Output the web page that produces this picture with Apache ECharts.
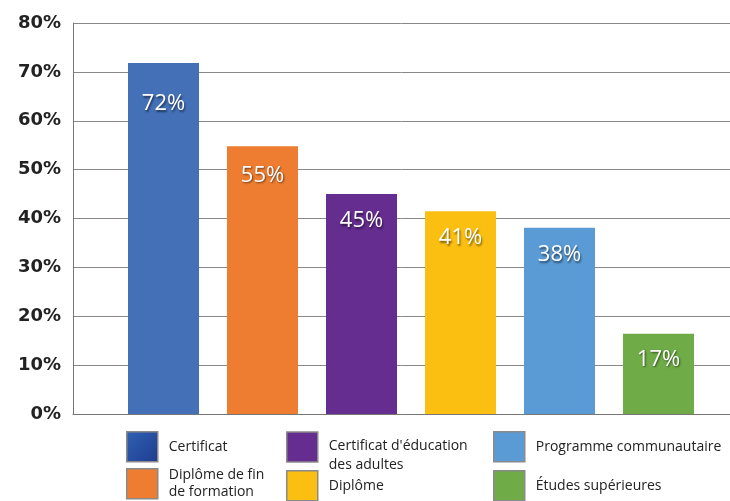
<!DOCTYPE html>
<html><head><meta charset="utf-8">
<script src="https://cdn.jsdelivr.net/npm/echarts@6/dist/echarts.min.js"></script>
<style>html,body{margin:0;padding:0;background:#fff}#c{width:730px;height:501px}</style>
</head><body><div id="c"></div>
<script>
// bar order (left to right)
const barNames = ['Certificat', 'Diplôme de fin de formation', "Certificat d'éducation des adultes", 'Diplôme', 'Programme communautaire', 'Études supérieures'];
const values = [71.8, 54.8, 45.0, 41.5, 38.1, 16.4];
const labelValues = [72, 55, 45, 41, 38, 17];
const yTicks = [0, 10, 20, 30, 40, 50, 60, 70, 80];
const colors = ['#4470b8', '#ee7d31', '#662d91', '#fbbf12', '#5b9bd5', '#6fab46'];
const labelDist = [30, 18.5, 16, 16, 16, 14.5];

const legendText = {
  'Certificat': '{a|Certificat}',
  'Diplôme de fin de formation': '{a|Diplôme de fin}\n{a|de formation}',
  "Certificat d'éducation des adultes": "{s| }\n{b|Certificat d'éducation}\n{b|des adultes}",
  'Diplôme': '{a|Diplôme}',
  'Programme communautaire': '{a|Programme communautaire}',
  'Études supérieures': '{a|Études supérieures}'
};
const legendPos = [
  {name: 'Certificat', left: 126, top: 431},
  {name: 'Diplôme de fin de formation', left: 126, top: 468},
  {name: "Certificat d'éducation des adultes", left: 286, top: 426},
  {name: 'Diplôme', left: 286, top: 470},
  {name: 'Programme communautaire', left: 493, top: 431},
  {name: 'Études supérieures', left: 493, top: 470}
];

const chart = echarts.init(document.getElementById('c'), null, {renderer: 'canvas'});
const series = barNames.map((n, i) => ({
  name: n,
  type: 'bar',
  xAxisIndex: 1, yAxisIndex: 1,
  barWidth: 71,
  barGap: '-100%',
  itemStyle: {color: colors[i]},
  data: barNames.map((_, j) => j === i ? values[i] : '-'),
  label: {
    show: true, position: 'insideTop', distance: labelDist[i],
    formatter: () => labelValues[i] + '%',
    color: '#fff', fontSize: 22, fontFamily: 'Open Sans',
    textShadowColor: 'rgba(0,0,0,0.55)', textShadowBlur: 2, textShadowOffsetX: 1, textShadowOffsetY: 1.5
  }
}));

const txt = {fontSize: 14, color: '#222', fontFamily: 'Open Sans'};
const legends = legendPos.map(p => {
  const ci = barNames.indexOf(p.name);
  return {
    left: p.left, top: p.top, orient: 'vertical', padding: 0,
    itemWidth: 31, itemHeight: 30,
    selectedMode: false,
    icon: 'rect',
    data: [{name: p.name, itemStyle: {color: ci === 0 ? new echarts.graphic.LinearGradient(0,0,1,1,[{offset:0,color:'#2f62b3'},{offset:1,color:'#1f3c8f'}]) : colors[ci], borderColor: '#8a8a8a', borderWidth: 1.5}}],
    formatter: n => legendText[n],
    itemGap: 0,
    textStyle: Object.assign({}, txt, {padding: [0, 0, 0, 6],
      rich: {
        a: Object.assign({}, txt, {lineHeight: 17}),
        b: Object.assign({}, txt, {lineHeight: 19}),
        s: {fontSize: 4, lineHeight: 18}
      }})
  };
});

chart.setOption({
  animation: false,
  legend: legends,
  grid: [
    {left: 73, right: 0, top: 23, bottom: 87},
    {left: 114, right: 22, top: 23, bottom: 87}
  ],
  xAxis: [
    {gridIndex: 0, type: 'category', data: ['a'], axisLine: {show: true, lineStyle: {color: '#777', width: 1}}, axisTick: {show: false}, axisLabel: {show: false}},
    {gridIndex: 1, type: 'category', data: barNames, axisLine: {show: false}, axisTick: {show: false}, axisLabel: {show: false}}
  ],
  yAxis: [
    {gridIndex: 0, type: 'value', min: yTicks[0], max: yTicks[yTicks.length - 1], interval: 10,
      axisLine: {show: true, lineStyle: {color: '#777', width: 1}},
      axisTick: {show: false},
      splitLine: {show: true, lineStyle: {color: '#888', width: 1}},
      axisLabel: {formatter: v => v + '%', color: '#222', fontSize: 18, fontWeight: 'bold', fontFamily: 'DejaVu Sans', margin: 12}
    },
    {gridIndex: 1, type: 'value', min: yTicks[0], max: yTicks[yTicks.length - 1], interval: 10, show: false, splitLine: {show: false}}
  ],
  series: series
});
</script></body></html>
